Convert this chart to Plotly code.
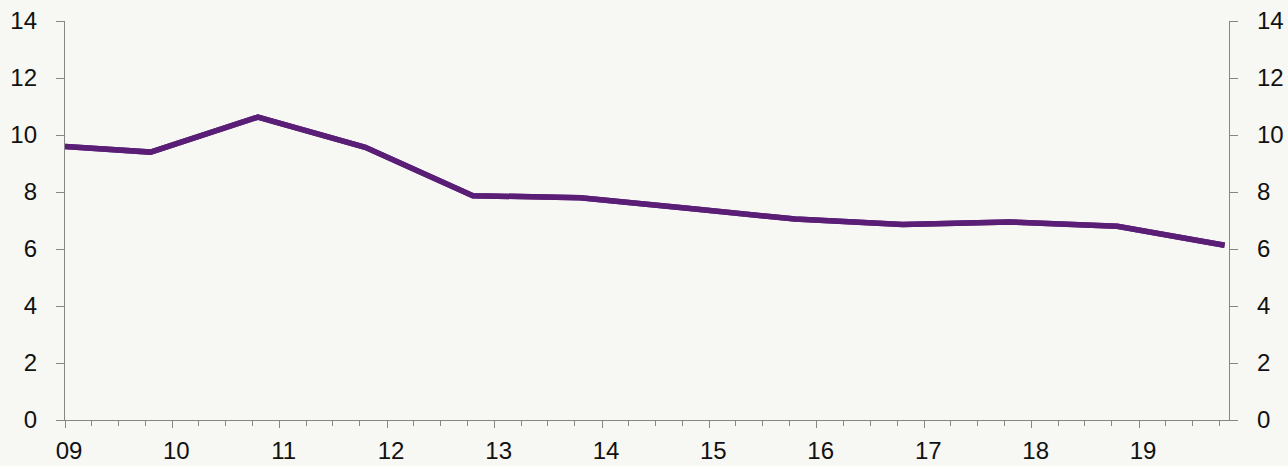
import plotly.graph_objects as go

# Observation dates and values
dates = ["2009-01-01", "2009-10-19", "2010-10-19", "2011-10-19", "2012-10-19",
         "2013-10-19", "2014-10-19", "2015-10-19", "2016-10-19", "2017-10-19",
         "2018-10-19", "2019-10-19"]
values = [9.6, 9.4, 10.63, 9.57, 7.87, 7.8, 7.43, 7.05, 6.86, 6.95, 6.8, 6.13]

y_ticks = [0, 2, 4, 6, 8, 10, 12, 14]

BG = "#f7f7f3"
AXIS = "#868686"
LINE = "#5a1e77"
FONT = dict(family="Liberation Sans, Arial, sans-serif", size=24, color="#111111")

fig = go.Figure()
fig.add_trace(go.Scatter(x=dates, y=values, mode="lines",
                         line=dict(color=LINE, width=5.5), showlegend=False))
# twin trace carrying the right-hand axis
fig.add_trace(go.Scatter(x=dates, y=values, mode="lines", yaxis="y2",
                         line=dict(color=LINE, width=5.5), showlegend=False,
                         hoverinfo="skip"))

yax = dict(range=[0, 14], tickvals=y_ticks, showgrid=False, zeroline=False,
           showline=True, linecolor=AXIS, linewidth=1.3, ticks="outside",
           ticklen=8, tickcolor=AXIS, tickwidth=1.3, tickfont=FONT,
           ticklabelstandoff=14, automargin=False)

fig.update_layout(
    width=1288, height=466,
    margin=dict(l=65, r=59, t=21, b=46),
    paper_bgcolor=BG, plot_bgcolor=BG,
    xaxis=dict(type="date", range=["2009-01-01", "2019-11-03"],
               tick0="2009-01-01", dtick="M12", tickformat="%y",
               showgrid=False, zeroline=False, showline=True, linecolor=AXIS,
               linewidth=1.3, ticks="outside", ticklen=7, tickcolor=AXIS,
               tickwidth=1.3, tickfont=FONT, ticklabelshift=4,
               ticklabelstandoff=2, automargin=False,
               minor=dict(dtick="M3", tick0="2009-01-01", ticks="outside",
                          ticklen=5, tickcolor=AXIS, tickwidth=1.3,
                          showgrid=False)),
    yaxis=yax,
    yaxis2=dict(yax, overlaying="y", side="right"),
)

fig.write_html("out.html")
